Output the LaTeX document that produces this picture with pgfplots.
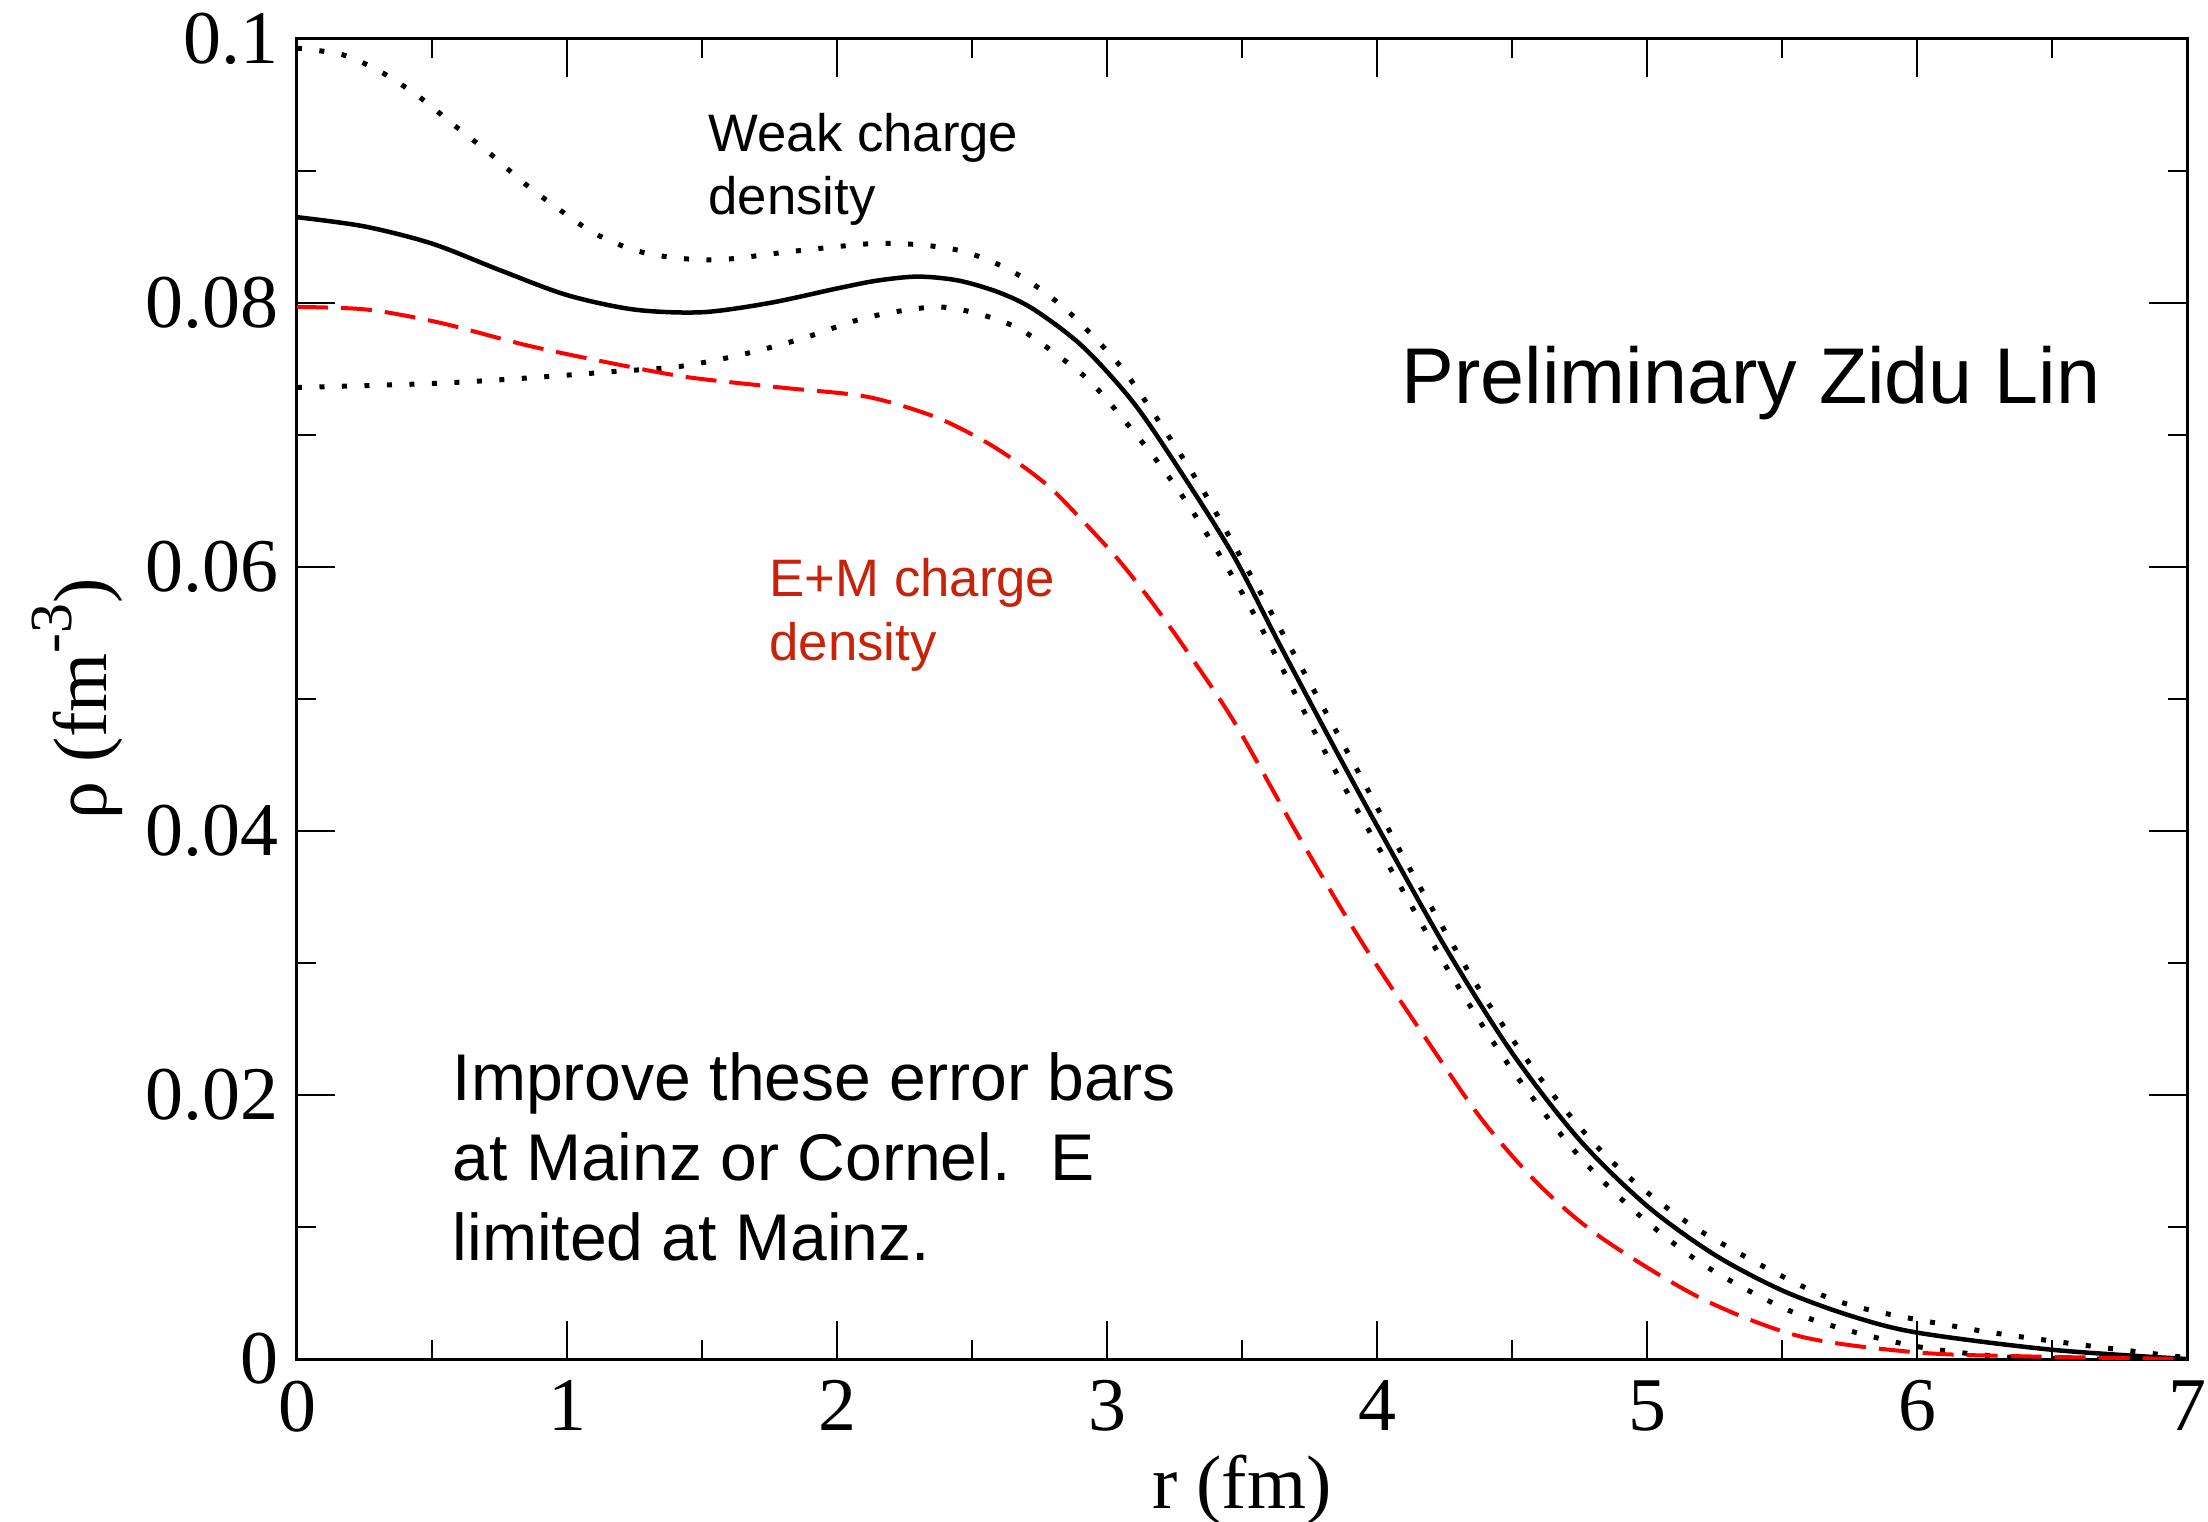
\documentclass[border=0pt]{standalone}
\usepackage{pgfplots}
\pgfplotsset{compat=1.18}
\usepackage{fontspec}
\setmainfont{Liberation Serif}
\newfontfamily\sansf{Liberation Sans}
\definecolor{emred}{RGB}{200,35,10}
\begin{document}
\begin{tikzpicture}
\begin{axis}[
  scale only axis, width=18.9cm, height=13.2cm,
  xmin=0, xmax=7, ymin=0, ymax=0.1,
  xtick={0,1,2,3,4,5,6,7}, minor x tick num=1,
  ytick={0,0.02,0.04,0.06,0.08,0.1},
  yticklabels={0,0.02,0.04,0.06,0.08,0.1},
  minor y tick num=1,
  major tick length=0.38cm, minor tick length=0.19cm,
  axis line style={line width=0.03cm},
  every tick/.style={line width=0.025cm, black},
  tick label style={font=\fontsize{21.6}{26}\selectfont},
  /pgf/number format/assume math mode=true,
  xticklabel style={inner sep=0pt, yshift=-0.21cm},
  yticklabel style={inner sep=0pt, xshift=-0.18cm},
  xlabel={r (fm)}, ylabel={ρ (fm\raisebox{0.45em}{\fontsize{17}{20}\selectfont -3})},
  label style={font=\fontsize{21.6}{26}\selectfont},
  xlabel style={at={(axis description cs:0.5,-0.113)}, anchor=base},
  ylabel style={at={(axis description cs:-0.101,0.5)}, anchor=base},
]
% upper weak (dotted)
\addplot[black, line width=0.05cm, dash pattern=on 0.05cm off 0.175cm, smooth] coordinates {
(0,0.0993) (0.17,0.0988) (0.32,0.0974) (0.46,0.0955) (0.58,0.0935) (0.71,0.0914)
(0.84,0.0891) (0.97,0.0871) (1.10,0.0853) (1.25,0.0840) (1.41,0.0834) (1.58,0.0833)
(1.83,0.0839) (2.13,0.0845) (2.31,0.0844) (2.47,0.0839) (2.62,0.0827) (2.75,0.0811)
(2.88,0.0789) (3.05,0.0752) (3.19,0.0711) (3.37,0.0653) (3.65,0.0550)
(3.93,0.0445) (4.12,0.0372) (4.37,0.0283) (4.60,0.0214) (4.81,0.0162) (4.99,0.0128)
(5.23,0.0093) (5.69,0.0045) (6.16,0.0024) (6.56,0.0012) (7.0,0.0001)};
% lower weak (dotted)
\addplot[black, line width=0.05cm, dash pattern=on 0.05cm off 0.175cm, smooth] coordinates {
(0,0.0736) (0.5,0.0739) (0.84,0.0743) (1.17,0.0748) (1.42,0.0752) (1.65,0.0761)
(1.87,0.0773) (2.11,0.0789) (2.36,0.0797) (2.52,0.0792) (2.67,0.0781) (2.80,0.0763)
(2.93,0.0742) (3.04,0.0717) (3.19,0.0679) (3.33,0.0638) (3.54,0.0566) (3.81,0.0459)
(4.01,0.0386) (4.26,0.0296) (4.48,0.0225) (4.73,0.0158) (4.96,0.0111) (5.22,0.0070)
(5.57,0.0033) (5.96,0.0011) (6.3,0.0002) (6.6,0.0000) (7.0,0.0000)};
% weak central (solid)
\addplot[black, line width=0.045cm, smooth] coordinates {
(0,0.0865) (0.25,0.0858) (0.5,0.0845) (0.75,0.0825) (1.0,0.0806) (1.25,0.0795)
(1.5,0.0793) (1.75,0.0800) (2.0,0.0811) (2.15,0.0817) (2.3,0.0820) (2.45,0.0817)
(2.6,0.0808) (2.73,0.0795) (2.91,0.0767) (3.10,0.0724) (3.28,0.0670) (3.47,0.0608) (3.64,0.0541)
(3.84,0.0464) (4.0,0.0404) (4.25,0.0313) (4.5,0.0232) (4.75,0.0166) (5.0,0.0116)
(5.25,0.0079) (5.5,0.0052) (5.75,0.0033) (6.0,0.0020) (6.5,0.0007) (7.0,0.0000)};
% E+M (red dashed)
\addplot[red, line width=0.04cm, dash pattern=on 0.31cm off 0.13cm, smooth] coordinates {
(0,0.0797) (0.26,0.0795) (0.53,0.0785) (0.85,0.0768) (1.15,0.0755) (1.44,0.0744)
(1.79,0.0736) (2.11,0.0729) (2.36,0.0714) (2.54,0.0696) (2.67,0.0679) (2.79,0.0660)
(2.91,0.0635) (3.04,0.0606) (3.16,0.0575) (3.28,0.0541) (3.47,0.0483) (3.71,0.0396)
(3.94,0.0317) (4.19,0.0240) (4.39,0.0181) (4.60,0.0132) (4.83,0.0092) (5.20,0.0046)
(5.57,0.0017) (6.0,0.0005) (6.4,0.0002) (7.0,0.0000)};
\node[anchor=base west, inner sep=0pt, font=\sansf\fontsize{15}{18}\selectfont] at (axis cs:1.522,0.09144) {Weak charge};
\node[anchor=base west, inner sep=0pt, font=\sansf\fontsize{15}{18}\selectfont] at (axis cs:1.522,0.08667) {density};
\node[anchor=base west, inner sep=0pt, text=emred, font=\sansf\fontsize{15}{18}\selectfont] at (axis cs:1.748,0.05773) {E+M charge};
\node[anchor=base west, inner sep=0pt, text=emred, font=\sansf\fontsize{15}{18}\selectfont] at (axis cs:1.748,0.05295) {density};
\node[anchor=base west, inner sep=0pt, font=\sansf\fontsize{22.5}{27}\selectfont] at (axis cs:4.089,0.07242) {Preliminary Zidu Lin};
\node[anchor=base west, inner sep=0pt, font=\sansf\fontsize{18.8}{22}\selectfont] at (axis cs:0.574,0.01962) {Improve these error bars};
\node[anchor=base west, inner sep=0pt, font=\sansf\fontsize{18.8}{22}\selectfont] at (axis cs:0.574,0.01356) {at Mainz or Cornel.\hspace{0.6em}E};
\node[anchor=base west, inner sep=0pt, font=\sansf\fontsize{18.8}{22}\selectfont] at (axis cs:0.574,0.0075) {limited at Mainz.};
\end{axis}
\pgfresetboundingbox
\path[use as bounding box] (-2.97,-1.62) rectangle (19.11,13.59);
\end{tikzpicture}
\end{document}
